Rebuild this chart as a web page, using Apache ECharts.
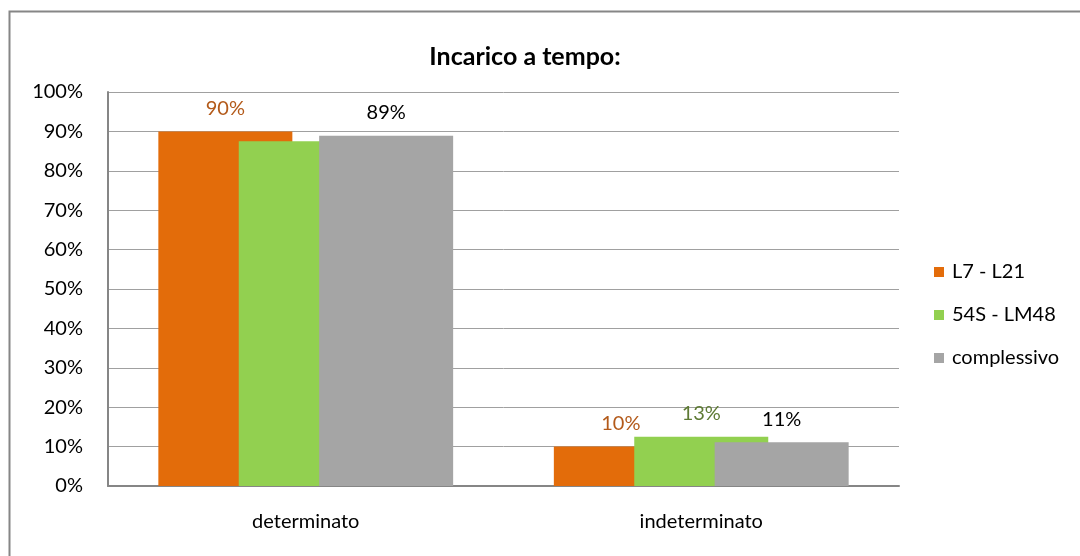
<!DOCTYPE html>
<html>
<head>
<meta charset="utf-8">
<script src="https://cdn.jsdelivr.net/npm/echarts@6/dist/echarts.min.js"></script>
<style>
  html, body { margin: 0; padding: 0; background: #fff; }
  #chart { width: 1080px; height: 556px; }
</style>
</head>
<body>
<div id="chart"></div>
<script>
// dati
var categories = ['determinato', 'indeterminato'];
var seriesNames = ['L7 - L21', '54S - LM48', 'complessivo'];
var valL7 = [90, 10];
var val54S = [87.5, 12.5];
var valTot = [88.9, 11.1];
var yTicks = [0, 10, 20, 30, 40, 50, 60, 70, 80, 90, 100];

var colors = ['#E36C0A', '#92D050', '#A5A5A5'];
var labelColors = ['#B35A1A', '#5E7A34', '#000000'];
var font = 'Lato, "Open Sans", sans-serif';

function makeData(vals, hideIdx) {
    return vals.map(function (v, i) {
        var d = { value: v };
        if (i === hideIdx) d.label = { show: false };
        return d;
    });
}

var myChart = echarts.init(document.getElementById('chart'));

var barSeries = [valL7, val54S, valTot].map(function (vals, k) {
    return {
        name: seriesNames[k],
        type: 'bar',
        barWidth: 134,
        barGap: '-40%',
        itemStyle: { color: colors[k] },
        label: {
            show: true,
            position: 'top',
            distance: 13,
            fontFamily: font,
            fontSize: 20,
            color: labelColors[k],
            formatter: function (p) { return Math.round(p.value) + '%'; }
        },
        // etichetta del verde nel primo gruppo non visibile
        data: makeData(vals, k === 1 ? 0 : -1)
    };
});

var option = {
    animation: false,
    backgroundColor: '#fff',
    textStyle: { fontFamily: font },
    title: {
        text: 'Incarico a tempo:',
        left: 520,
        top: 39,
        textAlign: 'center',
        textStyle: { fontFamily: font, fontSize: 25, fontWeight: 'bold', color: '#000' }
    },
    graphic: [{
        type: 'rect',
        shape: { x: 9.5, y: 11.5, width: 1200, height: 700 },
        style: { fill: 'none', stroke: '#868686', lineWidth: 2 },
        silent: true
    }],
    legend: {
        orient: 'vertical',
        left: 934,
        top: 262,
        padding: 0,
        itemWidth: 10,
        itemHeight: 10,
        itemGap: 23,
        icon: 'rect',
        textStyle: { fontFamily: font, fontSize: 20, color: '#000', padding: [0, 0, 0, 3] },
        data: seriesNames
    },
    grid: { left: 108, top: 92, right: 181, bottom: 70 },
    xAxis: {
        type: 'category',
        data: categories,
        axisLine: { lineStyle: { color: '#868686', width: 2 } },
        axisTick: { show: false },
        axisLabel: { fontFamily: font, fontSize: 20, color: '#000', margin: 26 }
    },
    yAxis: {
        type: 'value',
        min: yTicks[0],
        max: yTicks[yTicks.length - 1],
        interval: 10,
        axisLine: { show: true, lineStyle: { color: '#868686', width: 2 } },
        axisTick: { show: false },
        splitLine: { lineStyle: { color: '#A0A0A0', width: 1 } },
        axisLabel: { fontFamily: font, fontSize: 20, color: '#000', margin: 25, formatter: '{value}%' }
    },
    series: barSeries
};

myChart.setOption(option);
</script>
</body>
</html>
